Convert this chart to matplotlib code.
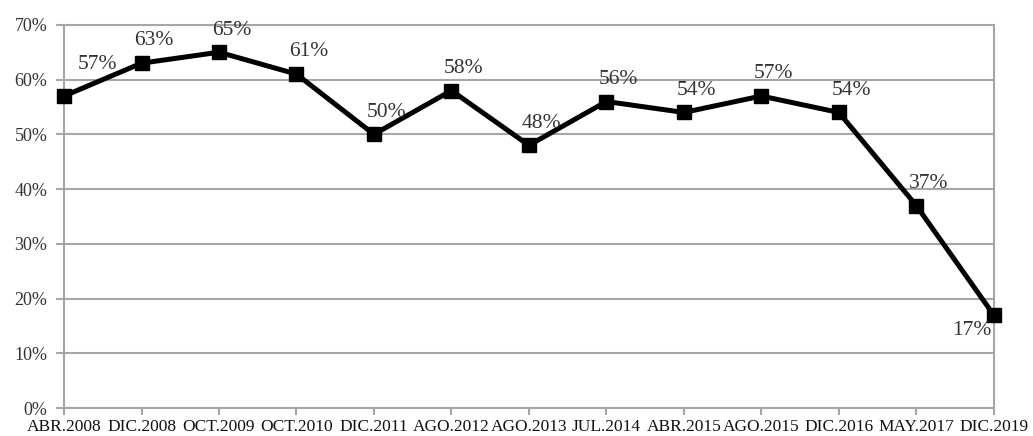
import matplotlib
matplotlib.use("Agg")
import matplotlib.pyplot as plt
from matplotlib.ticker import FuncFormatter

categories = ["ABR.2008", "DIC.2008", "OCT.2009", "OCT.2010", "DIC.2011", "AGO.2012",
              "AGO.2013", "JUL.2014", "ABR.2015", "AGO.2015", "DIC.2016", "MAY.2017", "DIC.2019"]
values = [57, 63, 65, 61, 50, 58, 48, 56, 54, 57, 54, 37, 17]
yticks = [0, 10, 20, 30, 40, 50, 60, 70]

plt.rcParams['font.family'] = ['Liberation Serif', 'DejaVu Serif']

fig = plt.figure(figsize=(10.33, 4.36), dpi=100)
ax = fig.add_axes([0.062, 0.064, 0.900, 0.879])

grid_c = "#A6A6A6"
x = list(range(len(categories)))
ax.plot(x, values, color="black", lw=3.6, marker="s", markersize=10.5, clip_on=False, zorder=5)

ax.set_xlim(0, len(categories) - 1)
ax.set_ylim(0, 70)
ax.set_yticks(yticks)
ax.yaxis.set_major_formatter(FuncFormatter(lambda v, p: f"{int(v)}%"))
ax.set_xticks(x)
ax.set_xticklabels(categories, fontsize=12.5)
ax.tick_params(axis='y', labelsize=13, length=6, width=1.5, color=grid_c, pad=6, labelcolor="#333333")
ax.tick_params(axis='x', length=5, width=1.5, color=grid_c, pad=3, labelcolor="#111111")
ax.grid(axis='y', color=grid_c, lw=1.5)
ax.set_axisbelow(True)
for s in ax.spines.values():
    s.set_color(grid_c)
    s.set_linewidth(1.5)

for i, v in enumerate(values):
    dx, dy = 9, 16
    if i == 0:
        dx, dy = 24, 23
    elif i == len(values) - 1:
        dx, dy = -16, -11
    ax.annotate(f"{v}%", (i, v), xytext=(dx, dy), textcoords="offset points",
                ha="center", va="center", fontsize=15.5, color="#333333", zorder=6)

fig.savefig("out.png", dpi=100)
